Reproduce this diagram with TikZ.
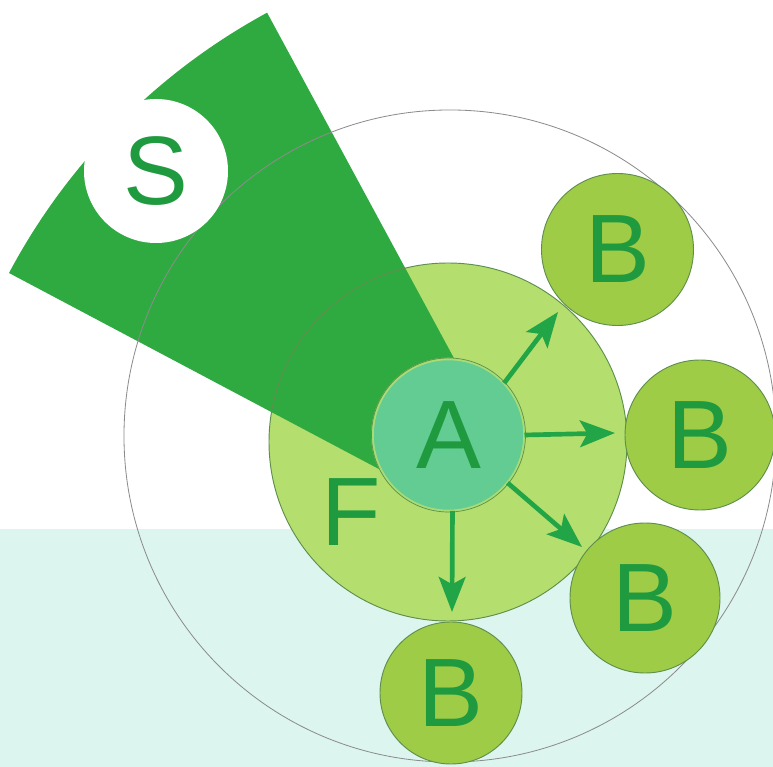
\documentclass[tikz,border=0pt]{standalone}
\usepackage{fontspec}
\setmainfont{Liberation Sans}
\usetikzlibrary{arrows.meta}
\definecolor{bgcyan}{HTML}{DDF5EF}
\definecolor{sectorgreen}{HTML}{2FAA41}
\definecolor{ffill}{HTML}{B4DF6E}
\definecolor{bfill}{HTML}{9ECC47}
\definecolor{afill}{HTML}{62CC92}
\definecolor{aring}{HTML}{A8DC74}
\definecolor{lettergreen}{HTML}{1F9A3E}
\definecolor{arrowgreen}{HTML}{22A546}
\definecolor{rimline}{HTML}{5F8F4C}
\definecolor{thinline}{HTML}{8C8C8C}
\begin{document}
\begin{tikzpicture}[x=0.03cm,y=-0.03cm,
  disc/.style={circle,inner sep=0pt,outer sep=0pt},
  letter/.style={font=\fontsize{83}{83}\selectfont,text=lettergreen},
  bdisc/.style={disc,fill=bfill,draw=rimline,line width=0.8pt,letter},
  arrowline/.style={draw=arrowgreen,line width=0.14cm,-{Stealth[length=1.05cm,width=0.8cm,inset=0.22cm]}},
  rim/.style={draw=rimline,line width=0.8pt}]
\useasboundingbox (0,0) rectangle (773,767);
% background
\fill[white] (0,0) rectangle (773,529);
\fill[bgcyan] (0,529) rectangle (773,767);
% F disc fill
\node[disc,fill=ffill,minimum size=10.74cm] (F) at (448,442) {};
% sector
\fill[sectorgreen] (401.5,481) -- (9,273) arc[start angle=208,end angle=241.5,radius=636]
  -- (469,386) -- (448,435) -- cycle;
% big thin circle
\node[disc,draw=thinline,line width=0.7pt,minimum size=19.56cm] (R) at (450,436) {};
% F outline
\draw[rim] (F.center) circle[radius=179];
\node[letter] (Flabel) at (351,512) {F};
% S
\node[disc,fill=white,minimum size=4.32cm,letter] (S) at (156,171) {S};
% A
\node[disc,fill=afill,draw=aring,line width=2.2pt,minimum size=4.56cm,letter] (A) at (448.5,435) {A};
\draw[draw=rimline,line width=0.6pt] (A.center) circle[radius=77];
% B discs
\node[bdisc,minimum size=4.56cm] (B1) at (617.5,249.5) {B};
\node[bdisc,minimum size=4.5cm] (B2) at (700,435) {B};
\node[bdisc,minimum size=4.5cm] (B3) at (645,598) {B};
\node[bdisc,minimum size=4.26cm] (B4) at (451,693) {B};
% arrows
\coordinate (t1) at (558,312);
\coordinate (t2) at (615,433);
\coordinate (t3) at (582,547);
\coordinate (t4) at (452,612);
\draw[arrowline] (A.43) -- (t1);
\draw[arrowline] (A.0) -- (t2);
\draw[arrowline] (A.-39) -- (t3);
\draw[arrowline] (A.-87) -- (t4);
\end{tikzpicture}
\end{document}
